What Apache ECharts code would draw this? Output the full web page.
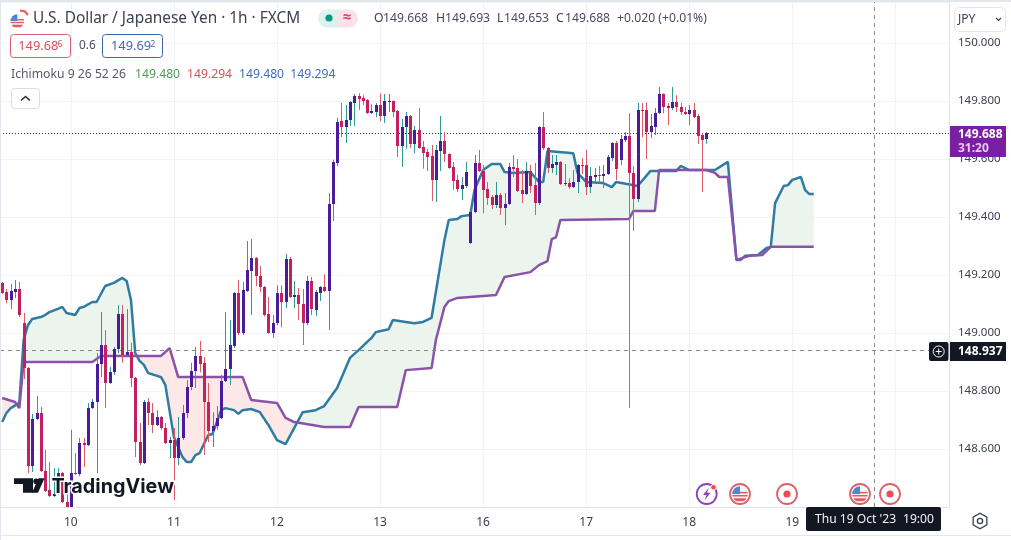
<!DOCTYPE html>
<html><head><meta charset="utf-8">
<script src="https://cdn.jsdelivr.net/npm/echarts@6/dist/echarts.min.js"></script>
<style>html,body{margin:0;padding:0;background:#fff}#c{width:1011px;height:540px}</style>
</head><body><div id="c"></div>
<script>
const dayLabels=['10','11','12','13','16','17','18','19','20'];
const opens=[149.173,149.141,149.114,149.141,149.152,149.034,148.879,148.541,148.703,148.724,
148.524,148.459,148.438,148.445,148.517,148.417,148.390,148.517,148.514,148.621,
148.614,148.741,148.762,148.893,148.959,148.828,148.865,148.945,149.065,148.924,
148.934,148.845,148.624,148.552,148.762,148.724,148.683,148.710,148.672,148.621,
148.631,148.569,148.638,148.724,148.814,148.869,148.921,148.897,148.762,148.662,
148.679,148.707,148.835,148.876,148.955,149.138,149.000,149.145,149.214,149.259,
149.197,149.159,149.065,149.000,149.034,149.138,149.107,149.255,149.124,149.131,
149.100,149.034,149.179,149.079,149.138,149.159,149.145,149.445,149.586,149.731,
149.710,149.734,149.793,149.817,149.810,149.803,149.758,149.762,149.786,149.748,
149.796,149.800,149.765,149.645,149.710,149.748,149.652,149.700,149.641,149.624,
149.610,149.528,149.628,149.662,149.617,149.572,149.528,149.497,149.507,149.311,
149.417,149.586,149.559,149.497,149.469,149.441,149.476,149.431,149.445,149.572,
149.569,149.493,149.479,149.559,149.510,149.448,149.710,149.638,149.569,149.579,
149.590,149.514,149.517,149.503,149.521,149.579,149.579,149.503,149.538,149.545,
149.541,149.548,149.603,149.655,149.597,149.666,149.679,149.552,149.462,149.769,
149.769,149.693,149.710,149.758,149.824,149.783,149.776,149.796,149.779,149.762,
149.755,149.769,149.748,149.683,149.668];
const highs=[149.176,149.152,149.169,149.183,149.176,149.069,148.883,148.721,148.783,148.745,
148.597,148.555,148.534,148.534,148.521,148.448,148.666,148.586,148.638,148.638,
148.759,148.772,148.931,149.072,149.010,148.883,148.952,149.096,149.096,149.083,
148.966,148.848,148.690,148.769,148.776,148.759,148.734,148.714,148.690,148.641,
148.672,148.710,148.752,148.838,148.897,148.952,148.972,148.917,148.828,148.727,
148.748,148.855,149.072,149.045,149.141,149.183,149.176,149.317,149.324,149.262,
149.231,149.162,149.124,149.062,149.165,149.165,149.272,149.262,149.179,149.155,
149.152,149.197,149.193,149.148,149.162,149.203,149.483,149.597,149.741,149.793,
149.786,149.800,149.824,149.827,149.820,149.807,149.789,149.793,149.827,149.824,
149.824,149.803,149.769,149.738,149.762,149.752,149.714,149.776,149.662,149.635,
149.648,149.648,149.748,149.693,149.620,149.590,149.545,149.538,149.590,149.420,
149.614,149.631,149.579,149.521,149.476,149.521,149.483,149.483,149.586,149.614,
149.600,149.562,149.590,149.579,149.586,149.714,149.762,149.641,149.614,149.614,
149.593,149.583,149.534,149.562,149.583,149.603,149.631,149.572,149.569,149.576,
149.579,149.614,149.659,149.662,149.683,149.693,149.758,149.576,149.793,149.793,
149.796,149.755,149.776,149.848,149.827,149.793,149.848,149.820,149.793,149.779,
149.786,149.793,149.755,149.690,149.693];
const lows=[149.134,149.103,149.083,149.121,149.055,148.841,148.517,148.521,148.700,148.521,
148.452,148.434,148.434,148.441,148.414,148.383,148.383,148.510,148.507,148.538,
148.610,148.738,148.517,148.848,148.741,148.824,148.855,148.931,148.897,148.921,
148.814,148.572,148.545,148.548,148.683,148.655,148.679,148.666,148.617,148.569,
148.424,148.545,148.631,148.707,148.803,148.810,148.865,148.579,148.624,148.607,
148.666,148.703,148.831,148.821,148.948,148.993,148.993,149.141,149.062,149.162,
149.141,149.058,148.997,148.983,149.027,149.020,149.086,149.121,149.086,149.045,
148.959,149.027,149.062,149.058,149.110,149.141,149.010,149.386,149.576,149.676,
149.655,149.714,149.714,149.769,149.786,149.755,149.755,149.745,149.731,149.724,
149.762,149.745,149.607,149.572,149.635,149.638,149.620,149.636,149.566,149.559,
149.455,149.452,149.559,149.590,149.566,149.493,149.486,149.459,149.500,149.307,
149.413,149.555,149.413,149.441,149.428,149.431,149.407,149.372,149.441,149.538,
149.486,149.448,149.476,149.483,149.407,149.441,149.631,149.552,149.552,149.545,
149.510,149.507,149.497,149.500,149.483,149.548,149.476,149.483,149.521,149.517,
149.500,149.545,149.593,149.528,149.579,149.659,148.741,149.352,149.452,149.676,
149.600,149.672,149.683,149.755,149.758,149.717,149.769,149.762,149.752,149.752,
149.717,149.741,149.652,149.486,149.653];
const closes=[149.138,149.114,149.145,149.152,149.062,148.879,148.541,148.703,148.724,148.524,
148.455,148.438,148.445,148.517,148.417,148.390,148.517,148.514,148.621,148.614,
148.741,148.762,148.893,148.959,148.828,148.865,148.945,149.065,148.924,148.934,
148.845,148.624,148.552,148.762,148.724,148.683,148.710,148.672,148.621,148.631,
148.569,148.638,148.724,148.814,148.869,148.921,148.893,148.762,148.662,148.679,
148.707,148.835,148.876,148.959,149.138,149.000,149.148,149.217,149.259,149.197,
149.159,149.062,149.000,149.034,149.138,149.107,149.255,149.124,149.131,149.100,
149.034,149.179,149.083,149.141,149.159,149.145,149.445,149.590,149.727,149.710,
149.734,149.796,149.817,149.807,149.800,149.758,149.765,149.786,149.748,149.800,
149.800,149.762,149.645,149.710,149.748,149.652,149.700,149.638,149.620,149.607,
149.528,149.631,149.662,149.617,149.569,149.524,149.497,149.510,149.555,149.417,
149.586,149.559,149.493,149.465,149.441,149.476,149.431,149.445,149.572,149.566,
149.490,149.479,149.559,149.507,149.448,149.710,149.638,149.569,149.583,149.590,
149.514,149.517,149.503,149.521,149.579,149.576,149.503,149.541,149.545,149.541,
149.548,149.607,149.655,149.566,149.669,149.679,149.552,149.462,149.769,149.765,
149.693,149.714,149.758,149.824,149.779,149.776,149.796,149.779,149.762,149.755,
149.769,149.745,149.679,149.666,149.688];
const spanA=[[0,148.693],[1,148.724],[2,148.741],[4,148.759],[5,148.976],[6,149.027],[7,149.048],[9,149.055],[10,149.062],[11,149.072],[13,149.083],[14,149.090],[15,149.069],[17,149.062],[18,149.086],[19,149.090],[21,149.107],[22,149.107],[24,149.162],[26,149.173],[28,149.190],[29,149.179],[30,149.114],[31,148.931],[32,148.904],[33,148.890],[34,148.862],[37,148.848],[38,148.821],[40,148.641],[42,148.572],[43,148.555],[44,148.555],[45,148.579],[46,148.586],[48,148.648],[49,148.652],[51,148.734],[52,148.741],[54,148.734],[55,148.721],[56,148.734],[58,148.738],[60,148.727],[62,148.683],[64,148.631],[66,148.617],[68,148.672],[70,148.727],[73,148.734],[75,148.748],[78,148.810],[81,148.914],[83,148.941],[86,148.983],[87,149.003],[90,149.013],[91,149.045],[94,149.038],[96,149.034],[98,149.038],[100,149.052],[103,149.321],[104,149.390],[106,149.393],[107,149.403],[109,149.407],[110,149.493],[112,149.562],[114,149.583],[116,149.583],[117,149.555],[119,149.552],[123,149.555],[125,149.521],[126,149.521],[127,149.628],[133,149.620],[134,149.552],[136,149.521],[140,149.517],[142,149.503],[143,149.521],[148,149.507],[151,149.559],[157,149.559],[158,149.576],[160,149.562],[166,149.562],[169,149.590],[171,149.252],[172,149.252],[173,149.266],[176,149.269],[178,149.293],[179,149.297],[180,149.448],[182,149.507],[183,149.510],[184,149.528],[186,149.538],[187,149.493],[188,149.479],[189,149.479]];
const spanB=[[0,148.776],[3,148.762],[4,148.741],[5,148.900],[21,148.900],[23,148.921],[31,148.921],[37,148.921],[39,148.948],[41,148.848],[56,148.848],[58,148.769],[64,148.759],[66,148.707],[68,148.693],[75,148.676],[81,148.676],[83,148.745],[92,148.745],[94,148.872],[100,148.879],[101,148.976],[103,149.090],[104,149.110],[106,149.121],[115,149.131],[117,149.193],[123,149.210],[125,149.234],[127,149.248],[128,149.324],[129,149.331],[130,149.390],[146,149.393],[147,149.421],[152,149.421],[153,149.562],[164,149.562],[166,149.552],[167,149.538],[169,149.538],[171,149.252],[174,149.266],[177,149.269],[179,149.297],[189,149.297]];
const cloudPieces=[[0,4,'#fce8e7'],[5,31,'#ebf5ed'],[31,68,'#fce8e7'],[68,189,'#ebf5ed']];
const lastClose=149.688, crossPrice=148.937, crossBar=203;
const yTicksStep=0.2, yMin=148.4, yMax=150.1414;
const barCount=221, dayStartBar=16, barsPerDay=24;
const F='"Noto Sans","Open Sans",sans-serif';

const categories=[];
for(let i=0;i<barCount;i++){const k=(i-dayStartBar)/barsPerDay;categories.push(Number.isInteger(k)&&k>=0&&k<dayLabels.length?dayLabels[k]:'');}
const isDay=i=>(i-dayStartBar)%barsPerDay===0&&i>=dayStartBar;
const candleData=opens.map((o,i)=>[i,o,highs[i],lows[i],closes[i]]);

function renderCandle(params,api){
  const i=api.value(0),o=api.value(1),h=api.value(2),l=api.value(3),c=api.value(4);
  const up=c>=o;
  const xc=Math.round(api.coord([i,o])[0]);
  const yT=api.coord([i,Math.max(o,c)])[1],yB=api.coord([i,Math.min(o,c)])[1];
  const yH=api.coord([i,h])[1],yL=api.coord([i,l])[1];
  const top=Math.round(yT),bh=Math.max(1,Math.round(yB)-top);
  return {type:'group',children:[
    {type:'rect',shape:{x:xc,y:yH,width:1,height:yL-yH},style:{fill:up?'#2f9a90':'#de5a68'}},
    {type:'rect',shape:{x:xc-1,y:top,width:3,height:bh},style:{fill:up?'#4a1c9a':'#c41f5e'}}
  ]};
}
function renderCloud(params,api){
  const p=cloudPieces[params.dataIndex];
  const a=spanA.filter(v=>v[0]>=p[0]&&v[0]<=p[1]);
  const b=spanB.filter(v=>v[0]>=p[0]&&v[0]<=p[1]).reverse();
  const pts=a.concat(b).map(v=>api.coord(v));
  return {type:'polygon',shape:{points:pts},style:{fill:p[2]}};
}

// ---- decoration helpers
const Z=50;
const g=[];
const txt=(x,y,text,fill,size,extra)=>g.push(Object.assign({type:'text',z:Z,x,y,style:Object.assign({text,fill,font:(extra&&extra.w||'400')+' '+size+'px '+F,textVerticalAlign:'middle',textAlign:extra&&extra.a||'left'},extra&&extra.s||{})},extra&&extra.o||{}));
const rect=(x,y,w,h,fill,stroke,r,z)=>g.push({type:'rect',z:z||Z,shape:{x,y,width:w,height:h,r:r||0},style:{fill:fill||'none',stroke:stroke||'none',lineWidth:1}});
const circ=(cx,cy,r,fill,stroke,lw)=>g.push({type:'circle',z:Z,shape:{cx,cy,r},style:{fill:fill||'none',stroke:stroke||'none',lineWidth:lw||1}});
const poly=(pts,fill,z)=>g.push({type:'polygon',z:z||Z,shape:{points:pts},style:{fill}});
const pline=(pts,stroke,lw)=>g.push({type:'polyline',z:Z,shape:{points:pts},style:{stroke,lineWidth:lw||1.5,fill:'none'}});

// frame
rect(0,0,1011,2,'#e4e6ee');rect(0,0,1,540,'#e4e6ee');rect(0,535,1011,1,'#e4e6ee');

// flag icon helper
function w0(r){return r*0.6;}
function flag(cx,cy,r){
  circ(cx,cy,r,'#f6f6f8');
  const rows=[[0.55,'#e35d5d'],[0.12,'#e35d5d'],[-0.28,'#e35d5d']];
  rows.forEach(([d,c])=>{const y=cy+d*r,w=Math.sqrt(Math.max(0,1-Math.pow(d+0.09,2)))*r;rect(cx-w,y,2*w,r*0.2,c);});
  g.push({type:'sector',z:Z,shape:{cx,cy,r0:0,r,startAngle:Math.PI,endAngle:Math.PI*1.5},style:{fill:'#4f86d8'}});
  rect(cx-w0(r),cy+0.62*r,2*w0(r),r*0.3,'#e35d5d');
}
// header
flag(17.3,21,6.8);
pline([[20,10.5],[25,11.5],[28,15]],'#e85a5a',2);
txt(33,18.5,'U.S. Dollar / Japanese Yen · 1h · FXCM','#3c4150',15.4);
g.push({type:'rect',z:Z,shape:{x:318,y:9.5,width:20,height:18,r:[9,0,0,9]},style:{fill:'#dff1ee'}});
g.push({type:'rect',z:Z,shape:{x:338,y:9.5,width:20,height:18,r:[0,9,9,0]},style:{fill:'#fbe2ea'}});
circ(329,18,3.6,'#089981');
txt(347,17.5,'≈','#d8447a',15,{a:'center',w:'700'});
const ohlcRow=[[374,'O','149.668'],[436,'H','149.693'],[497,'L','149.653'],[556,'C','149.688']];
const V='#4b4a62';
ohlcRow.forEach(([x,l,v])=>{txt(x,18.5,l,'#3c3f4c',12.2);txt(x+(l==='L'?7:9),18.5,v,V,12.2);});
txt(617,18.5,'+0.020 (+0.01%)',V,12.2);
// bid / ask
rect(10.5,34.5,60,23,'#fff','#d8606e',3);txt(18.3,46.5,'149.68','#d9505e',12.8);txt(57.5,44,'6','#d9505e',9);
txt(79,46,'0.6','#4a4d5a',11.8);
rect(102.5,34.5,60,23,'#fff','#3f64b4',3);txt(111,46.5,'149.69','#4768bb',12.8);txt(150.3,44,'2','#4768bb',9);
// indicator row
txt(11,75,'Ichimoku 9 26 52 26','#555a68',12.2);
txt(135,75,'149.480','#4f9a5c',12.2);txt(187,75,'149.294','#d9505e',12.2);txt(239,75,'149.480','#3f6fc0',12.2);txt(290.3,75,'149.294','#3f6fc0',12.2);
rect(11.5,88.5,28,20,'#fff','#dcdee6',3);
pline([[21,100.5],[25.5,96.5],[30,100.5]],'#2a2e39',1.6);
// currency select
rect(954.5,7.5,51,24,'#fff','#e4e6ee',4);
txt(958,19.5,'JPY','#3c4150',12);
pline([[996,18],[998.5,20.5],[1001,18]],'#3c4150',1.2);
// last price tag
rect(950,126,56,31,'#7b1fa2');
txt(958,134.5,'149.688','#ffffff',12,{w:'700'});
txt(958,149,'31:20','#eac8f2',12,{w:'700'});
// crosshair price tag
rect(929,342,19.5,19,'#131722',null,2);
circ(938.7,351.5,5.5,'none','#fff',1);pline([[938.7,348.5],[938.7,354.5]],'#fff',1);pline([[935.7,351.5],[941.7,351.5]],'#fff',1);
rect(950,342,56,19,'#131722');
txt(958,351.5,'148.937','#ffffff',12,{w:'700'});
// time tag
rect(806,507,135,24,'#131722',null,2);
txt(815,519.5,"Thu 19 Oct '23",'#f2f3f5',12.1);
txt(903,519.5,'19:00','#f2f3f5',12.1);
// settings
poly([[980,512.5],[987.5,516.8],[987.5,525.2],[980,529.5],[972.5,525.2],[972.5,516.8]],'#3c4150');
poly([[980,514],[986.2,517.6],[986.2,524.4],[980,528],[973.8,524.4],[973.8,517.6]],'#fff');
circ(980,521,2.6,'#fff','#3c4150',1.4);
// events row
circ(706.7,494,10,'#fff','#8e3fbf',1.8);
poly([[709,487.5],[703,495],[706.5,495],[704.5,500.5],[710.5,492.8],[707,492.8]],'#8e3fbf');
circ(713.5,487.3,2.8,'#ee4b4b','#fff',1);
function flagEvent(cx){circ(cx,494,10,'#fff','#e0606a',1.8);flag(cx,494,7.8);}
function targetEvent(cx){circ(cx,494,10,'#fff','#e0606a',1.8);circ(cx,494,3.6,'#ee4b57');}
flagEvent(740);targetEvent(787);flagEvent(860);targetEvent(890);
// watermark
const WZ=40;
poly([[14,478.3],[33,478.3],[33,492.7],[23,492.7],[23,484],[14,484]],'#131722',WZ);
g.push({type:'circle',z:WZ,shape:{cx:36.2,cy:481.3,r:2.9},style:{fill:'#131722'}});
poly([[38.5,478.3],[44.5,478.3],[38,492.7],[32,492.7]],'#131722',WZ);
g.push({type:'text',z:WZ,x:51.5,y:487,style:{text:'TradingView',fill:'#131722',font:'700 19.8px Inter,'+F,textVerticalAlign:'middle',stroke:'#fff',lineWidth:3}});

const chart=echarts.init(document.getElementById('c'));
chart.setOption({
  animation:false,
  backgroundColor:'#ffffff',
  grid:{left:0,right:62,top:2,bottom:33},
  graphic:g,
  xAxis:{type:'category',data:categories,boundaryGap:true,
    axisLine:{show:true,lineStyle:{color:'#e0e3eb'}},
    axisTick:{show:false,alignWithLabel:true,interval:isDay},
    axisLabel:{interval:isDay,color:'#3c4150',fontSize:12,fontFamily:F,margin:10,hideOverlap:false},
    splitLine:{show:true,alignWithLabel:true,interval:isDay,lineStyle:{color:'#f0f3f8',width:1}}},
  yAxis:{type:'value',position:'right',min:yMin,max:yMax,interval:yTicksStep,
    axisLine:{show:true,lineStyle:{color:'#e0e3eb'}},axisTick:{show:false},
    axisLabel:{color:'#3c4150',fontSize:11.5,fontFamily:F,margin:9,padding:[3,0,0,0],showMinLabel:false,showMaxLabel:false,formatter:v=>v.toFixed(3)},
    splitLine:{show:true,lineStyle:{color:'#f0f3f8',width:1}}},
  series:[
    {type:'custom',name:'cloud',z:1,silent:true,data:cloudPieces.map((p,i)=>[p[0],i]),encode:{x:0,y:1},renderItem:renderCloud,clip:true},
    {type:'line',name:'Span A',z:2,symbol:'none',data:spanA,lineStyle:{color:'#2f7ca3',width:2.5},
      markLine:{silent:true,symbol:'none',animation:false,label:{show:false},data:[
        {yAxis:lastClose,lineStyle:{color:'#3a2a55',type:[1,2],width:1}},
        {yAxis:crossPrice,lineStyle:{color:'#85888f',type:[4,4],width:1}},
        {xAxis:crossBar,lineStyle:{color:'#85888f',type:[4,4],width:1}}]}},
    {type:'line',name:'Span B',z:3,symbol:'none',data:spanB,lineStyle:{color:'#8a52a8',width:2.5}},
    {type:'custom',name:'USD/JPY',z:5,data:candleData,encode:{x:0,y:[1,2,3,4]},renderItem:renderCandle,clip:true}
  ]
});
</script></body></html>
